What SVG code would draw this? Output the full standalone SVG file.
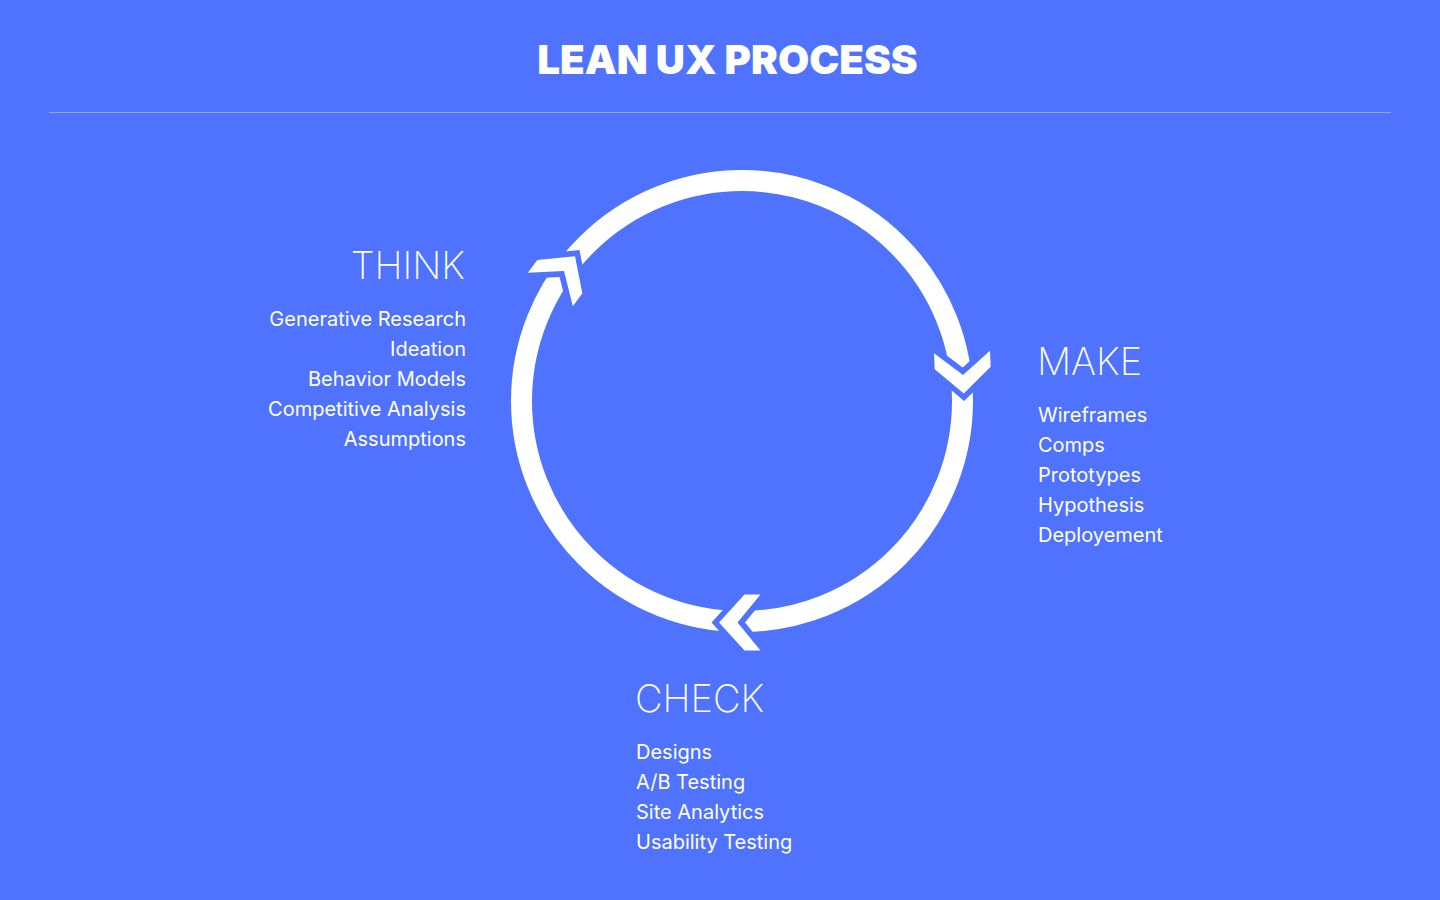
<svg xmlns="http://www.w3.org/2000/svg" xmlns:xlink="http://www.w3.org/1999/xlink" width="1440" height="900" viewBox="0 0 1440 900">
  <style>
    .bg { fill: #4f73ff; }
    .title { font-family: "Inter", "Liberation Sans", sans-serif; font-weight: 900; font-size: 40.3px; fill: #ffffff; }
    .head { font-family: "Inter", "Liberation Sans", sans-serif; font-weight: 200; font-size: 38px; fill: #ffffff; }
    .item { font-family: "Inter", "Liberation Sans", sans-serif; font-weight: 400; font-size: 20px; fill: #ffffff; }
    .ring { fill: none; stroke: #ffffff; stroke-width: 21; }
    .cut { fill: #4f73ff; }
    .chev { fill: #ffffff; }
  </style>
  <defs>
    <polygon id="cutShape" points="-16,-20.6 0,-7.5 16,-20.6 16,11.4 0,26 -16,11.4"/>
    <polygon id="chevShape" points="-28,-23 0,0 28,-23 28,-7 0,18.5 -28,-7"/>
  </defs>
  <rect class="bg" x="0" y="0" width="1440" height="900"/>
  <g id="title">
    <text class="title" x="727.5" y="73.5" text-anchor="middle">LEAN UX PROCESS</text>
    <line x1="49" y1="112.5" x2="1391" y2="112.5" stroke="#ffffff" stroke-opacity="0.35" stroke-width="1"/>
  </g>
  <g id="connectors">
    <circle class="ring" cx="742" cy="401" r="220.5"/>
    <g transform="translate(963,375) rotate(-2.5)">
      <use xlink:href="#cutShape" class="cut"/>
      <use xlink:href="#chevShape" class="chev"/>
    </g>
    <g transform="translate(737.5,622.5) rotate(90)">
      <use xlink:href="#cutShape" class="cut"/>
      <use xlink:href="#chevShape" class="chev"/>
    </g>
    <g transform="translate(564,271) rotate(-143.5)">
      <use xlink:href="#cutShape" class="cut"/>
      <use xlink:href="#chevShape" class="chev"/>
    </g>
  </g>
  <g id="think" text-anchor="end">
    <text class="head" x="465" y="279">THINK</text>
    <text class="item" x="466" y="326">Generative Research</text>
    <text class="item" x="466" y="356">Ideation</text>
    <text class="item" x="466" y="386">Behavior Models</text>
    <text class="item" x="466" y="416">Competitive Analysis</text>
    <text class="item" x="466" y="446">Assumptions</text>
  </g>
  <g id="make">
    <text class="head" x="1037" y="375">MAKE</text>
    <text class="item" x="1038" y="421.5">Wireframes</text>
    <text class="item" x="1038" y="451.5">Comps</text>
    <text class="item" x="1038" y="481.5">Prototypes</text>
    <text class="item" x="1038" y="511.5">Hypothesis</text>
    <text class="item" x="1038" y="541.5">Deployement</text>
  </g>
  <g id="check">
    <text class="head" x="635" y="712">CHECK</text>
    <text class="item" x="636" y="758.5">Designs</text>
    <text class="item" x="636" y="788.5">A/B Testing</text>
    <text class="item" x="636" y="818.5">Site Analytics</text>
    <text class="item" x="636" y="848.5">Usability Testing</text>
  </g>
</svg>
